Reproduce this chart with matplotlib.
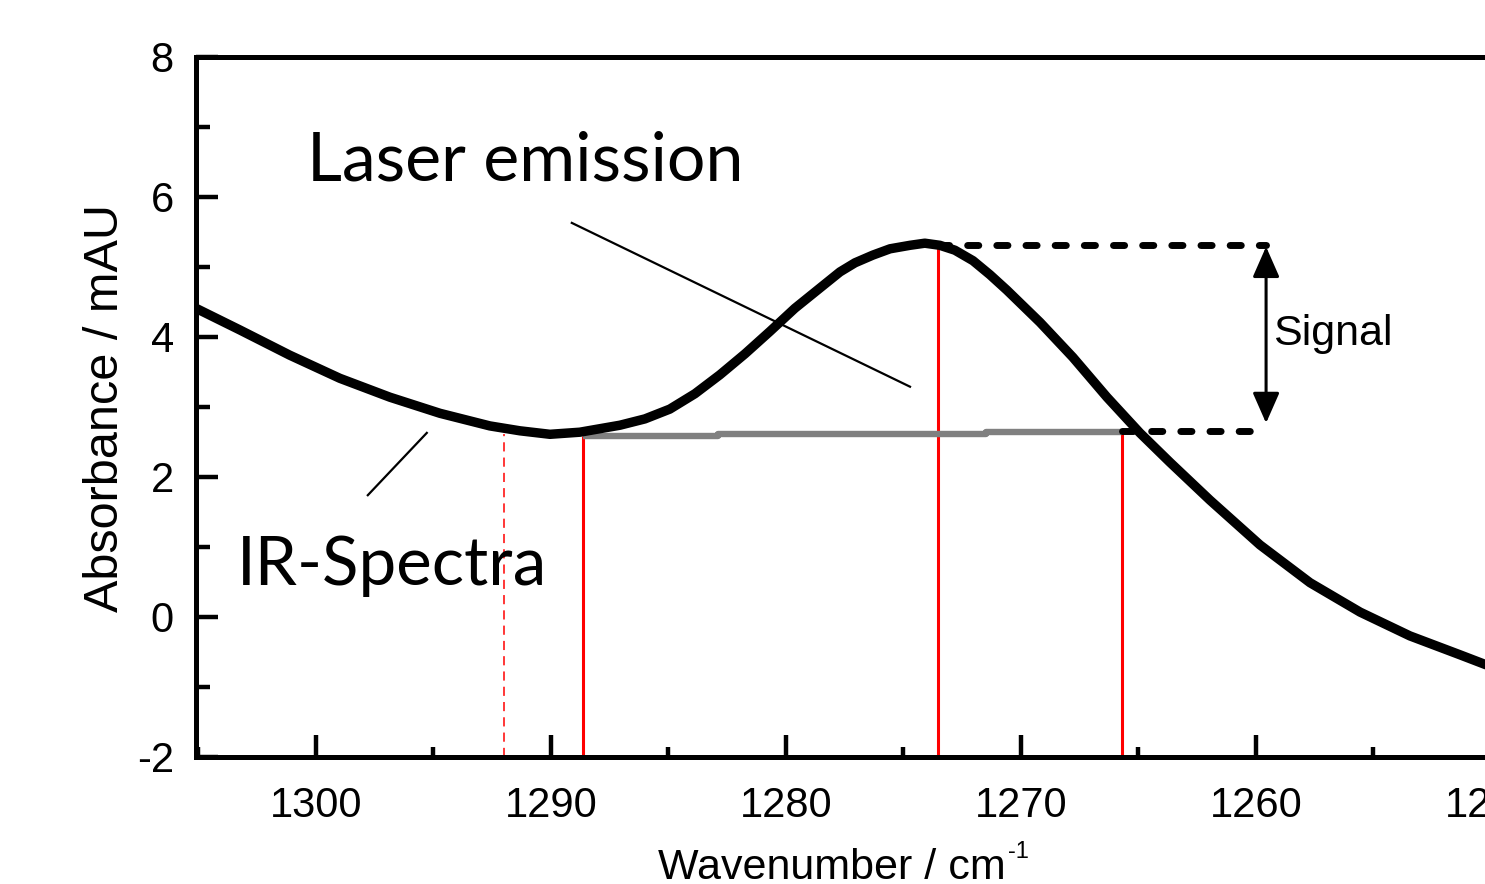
import matplotlib
matplotlib.use("Agg")
import matplotlib.pyplot as plt
from matplotlib.ticker import MultipleLocator
from matplotlib.patches import ArrowStyle

# ---------------- data ----------------
wavenumber = [1305.1, 1303.23, 1301.11, 1298.98, 1296.85, 1294.72, 1292.6, 1291.32,
              1290.04, 1288.77, 1287.06, 1286.0, 1284.94, 1283.87, 1282.81, 1281.74,
              1280.68, 1279.62, 1278.55, 1277.70, 1277.06, 1276.30, 1275.57, 1274.72,
              1274.09, 1273.45, 1272.81, 1272.04, 1271.32, 1270.60, 1269.19, 1267.79,
              1266.34, 1264.94, 1263.66, 1261.96, 1259.83, 1257.70, 1255.57, 1253.45,
              1251.32, 1250.0]
absorbance = [4.41, 4.10, 3.74, 3.41, 3.14, 2.91, 2.73, 2.66,
              2.61, 2.64, 2.74, 2.83, 2.97, 3.19, 3.46, 3.76,
              4.08, 4.41, 4.70, 4.93, 5.06, 5.17, 5.26, 5.31,
              5.34, 5.31, 5.24, 5.09, 4.89, 4.67, 4.21, 3.71,
              3.14, 2.63, 2.21, 1.67, 1.03, 0.49, 0.07, -0.27,
              -0.54, -0.71]

baseline_x = [1288.65, 1282.9, 1282.9, 1271.5, 1271.5, 1265.7]
baseline_y = [2.59, 2.59, 2.617, 2.617, 2.64, 2.64]

red_x = [1288.65, 1273.53, 1265.7]
red_top = [2.59, 5.29, 2.64]
red_dashed_x = 1292.0
red_dashed_top = 2.62

signal_top_x = [1273.53, 1259.57]
signal_top_y = 5.31
signal_bot_x = [1265.7, 1260.1]
signal_bot_y = 2.66
arrow_x = 1259.57
arrow_y = [2.77, 5.29]

xticks_major = [1300, 1290, 1280, 1270, 1260, 1250]
yticks_major = [-2, 0, 2, 4, 6, 8]

laser_text = "Laser emission"
ir_text = "IR-Spectra"
signal_text = "Signal"
laser_line = ([1289.11, 1274.72], [5.63, 3.29])
ir_line = ([1295.28, 1297.79], [2.63, 1.74])

# ---------------- figure ----------------
W, H = 1485, 884
fig = plt.figure(figsize=(W / 100, H / 100), dpi=100)
left_px, right_px, top_px, bot_px = 196, 1491, 57, 757
ax = fig.add_axes([left_px / W, 1 - bot_px / H, (right_px - left_px) / W, (bot_px - top_px) / H])

arial = ['Liberation Sans', 'DejaVu Sans']
calibri = ['Lato', 'DejaVu Sans']

ax.set_xlim(1305.1, 1250)
ax.set_ylim(-2, 8)

# red verticals
ax.vlines(red_x, -2, red_top, colors='#FF0000', linewidth=2.2, zorder=2)
ax.plot([red_dashed_x, red_dashed_x], [-2, red_dashed_top], color='#FF0000',
        linewidth=1.1, linestyle=(0, (6, 4)), zorder=2)

# gray baseline
ax.plot(baseline_x, baseline_y, color='#808080', linewidth=4.6,
        solid_capstyle='butt', zorder=3)

# dashed signal lines
ax.plot(signal_top_x, [signal_top_y] * 2, color='black', linewidth=5,
        linestyle=(0, (1.6, 2.6)), dash_capstyle='round', zorder=3)
ax.plot(signal_bot_x, [signal_bot_y] * 2, color='black', linewidth=5,
        linestyle=(0, (1.6, 2.6)), dash_capstyle='round', zorder=3)

# spectrum curve
ax.plot(wavenumber, absorbance, color='black', linewidth=6.8,
        solid_joinstyle='round', solid_capstyle='round', zorder=4)

# arrow
ax.annotate('', xy=(arrow_x, arrow_y[1]), xytext=(arrow_x, arrow_y[0]),
            arrowprops=dict(arrowstyle=ArrowStyle('<|-|>', head_length=1.25, head_width=0.55),
                            mutation_scale=15, color='black', lw=2.2,
                            shrinkA=0, shrinkB=0), zorder=5)

# pointer lines
ax.plot(*laser_line, color='black', linewidth=1.6, zorder=5)
ax.plot(*ir_line, color='black', linewidth=1.6, zorder=5)

# texts
ax.text(1300.38, 6.24, laser_text, fontsize=49, family=calibri, ha='left', va='baseline', zorder=6)
ax.text(1303.36, 0.457, ir_text, fontsize=48.5, family=calibri, ha='left', va='baseline', zorder=6)
ax.text(1259.28, 3.886, signal_text, fontsize=31, family=arial, ha='left', va='baseline', zorder=6)

# axes styling
for s in ['top', 'bottom', 'left', 'right']:
    ax.spines[s].set_linewidth(3.6)
ax.xaxis.set_major_locator(MultipleLocator(10))
ax.xaxis.set_minor_locator(MultipleLocator(5))
ax.yaxis.set_major_locator(MultipleLocator(2))
ax.yaxis.set_minor_locator(MultipleLocator(1))
ax.set_xticks(xticks_major)
ax.set_yticks(yticks_major)
ax.set_xticklabels([str(t) for t in xticks_major])
ax.set_yticklabels([str(t) for t in yticks_major])
ax.tick_params(axis='x', which='major', direction='in', length=15.5, width=3.2, pad=21)
ax.tick_params(axis='x', which='minor', direction='in', length=7.5, width=3.2)
ax.tick_params(axis='y', which='major', direction='in', length=15.5, width=3.2, pad=16)
ax.tick_params(axis='y', which='minor', direction='in', length=10, width=3.2)
for lab in ax.get_xticklabels() + ax.get_yticklabels():
    lab.set_family(arial)
    lab.set_fontsize(30)

# axis labels
fig.text(106 / W, 1 - 408 / H, "Absorbance / mAU", rotation=90, ha='center', va='center',
         fontsize=35, family=arial)
fig.text(658 / W, 1 - 879 / H, "Wavenumber / cm", ha='left', va='baseline',
         fontsize=31, family=arial)
fig.text(1008 / W, 1 - 858 / H, "-1", ha='left', va='baseline', fontsize=17, family=arial)

fig.savefig("out.png", dpi=100)
